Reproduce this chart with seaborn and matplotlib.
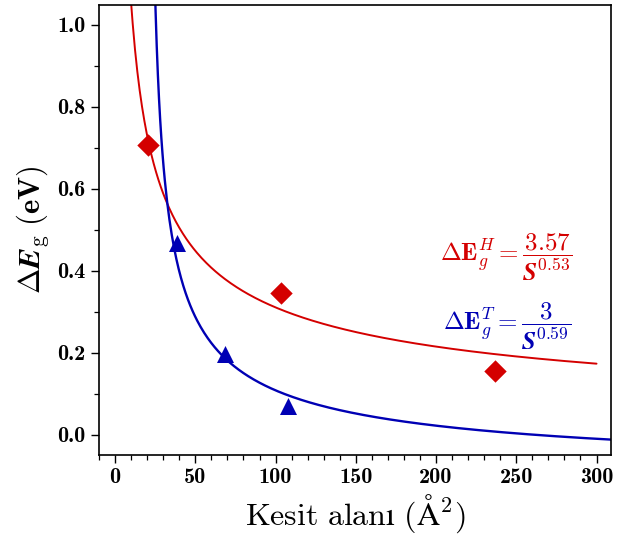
import numpy as np
import pandas as pd
import matplotlib
matplotlib.use("Agg")
import matplotlib.pyplot as plt
import seaborn as sns
from matplotlib.ticker import MultipleLocator

# ---- data ----
h_area = [20.3, 103.7, 236.9]
h_gap = [0.707, 0.346, 0.155]
t_area = [38.3, 68.4, 107.9]
t_gap = [0.468, 0.198, 0.071]

# fitted curves as drawn (parameters)
h_fit = dict(a=3.57, b=0.53)                 # 3.57 / S^0.53
t_fit = dict(a=3.1, s0=20.0, b=0.6, c=-0.115) # drawn blue fit

x_ticks = [0, 50, 100, 150, 200, 250, 300]
y_ticks = [0.0, 0.2, 0.4, 0.6, 0.8, 1.0]

RED = "#d40000"
BLUE = "#0000b4"

sns.set_style("ticks")
plt.rcParams["mathtext.fontset"] = "cm"
plt.rcParams["font.family"] = ["DejaVu Serif"]
plt.rcParams["text.color"] = "black"
plt.rcParams["xtick.color"] = "black"
plt.rcParams["ytick.color"] = "black"
plt.rcParams["axes.labelcolor"] = "black"

fig = plt.figure(figsize=(6.19, 5.34), dpi=100)
ax = fig.add_axes([0.160, 0.148, 0.827, 0.843])

sh = np.linspace(9.5, 300, 400)
th = np.linspace(24.5, 312, 400)
dfh = pd.DataFrame({"S": sh, "E": h_fit["a"] / sh ** h_fit["b"]})
dft = pd.DataFrame({"S": th, "E": t_fit["a"] / (th - t_fit["s0"]) ** t_fit["b"] + t_fit["c"]})

sns.lineplot(data=dfh, x="S", y="E", color=RED, lw=1.4, ax=ax)
sns.lineplot(data=dft, x="S", y="E", color=BLUE, lw=1.7, ax=ax)

sns.scatterplot(x=h_area, y=h_gap, marker="D", s=130, color=RED, linewidth=0, ax=ax, zorder=5)
sns.scatterplot(x=t_area, y=t_gap, marker="^", s=150, color=BLUE, linewidth=0, ax=ax, zorder=5)

ax.set_xlim(-10, 309)
ax.set_ylim(-0.049, 1.049)
ax.set_xticks(x_ticks)
ax.set_yticks(y_ticks)
ax.set_xticklabels([str(v) for v in x_ticks])
ax.set_yticklabels([f"{v:.1f}" for v in y_ticks])
ax.xaxis.set_minor_locator(MultipleLocator(10))
ax.yaxis.set_minor_locator(MultipleLocator(0.1))
ax.tick_params(which="major", direction="out", length=6, width=1.0, top=False, right=False,
               colors="black")
ax.tick_params(which="minor", direction="out", length=3.5, width=0.9, top=False, right=False,
               colors="black")
for lab in ax.get_xticklabels() + ax.get_yticklabels():
    lab.set_fontfamily(["cmb10", "DejaVu Serif"])
    lab.set_fontsize(16)
    lab.set_color("black")
for sp in ax.spines.values():
    sp.set_linewidth(1.2)
    sp.set_color("black")

ax.set_xlabel(r"$\mathrm{Kesit\ alanı\ (\AA^{2})}$", fontsize=23, labelpad=4, color="black")
ax.set_ylabel(r"$\mathbf{\Delta}\boldsymbol{E}_{\mathrm{g}}\ \mathbf{(eV)}$", fontsize=22,
              labelpad=5, color="black")

ax.text(244, 0.432, r"$\mathbf{\Delta E}_{g}^{H} = \dfrac{\mathbf{3.57}}{\boldsymbol{S}^{\mathbf{0.53}}}$",
        color=RED, fontsize=18, ha="center", va="center")
ax.text(244, 0.265, r"$\mathbf{\Delta E}_{g}^{T} = \dfrac{\mathbf{3}}{\boldsymbol{S}^{\mathbf{0.59}}}$",
        color=BLUE, fontsize=18, ha="center", va="center")

fig.savefig("out.png", dpi=100)
